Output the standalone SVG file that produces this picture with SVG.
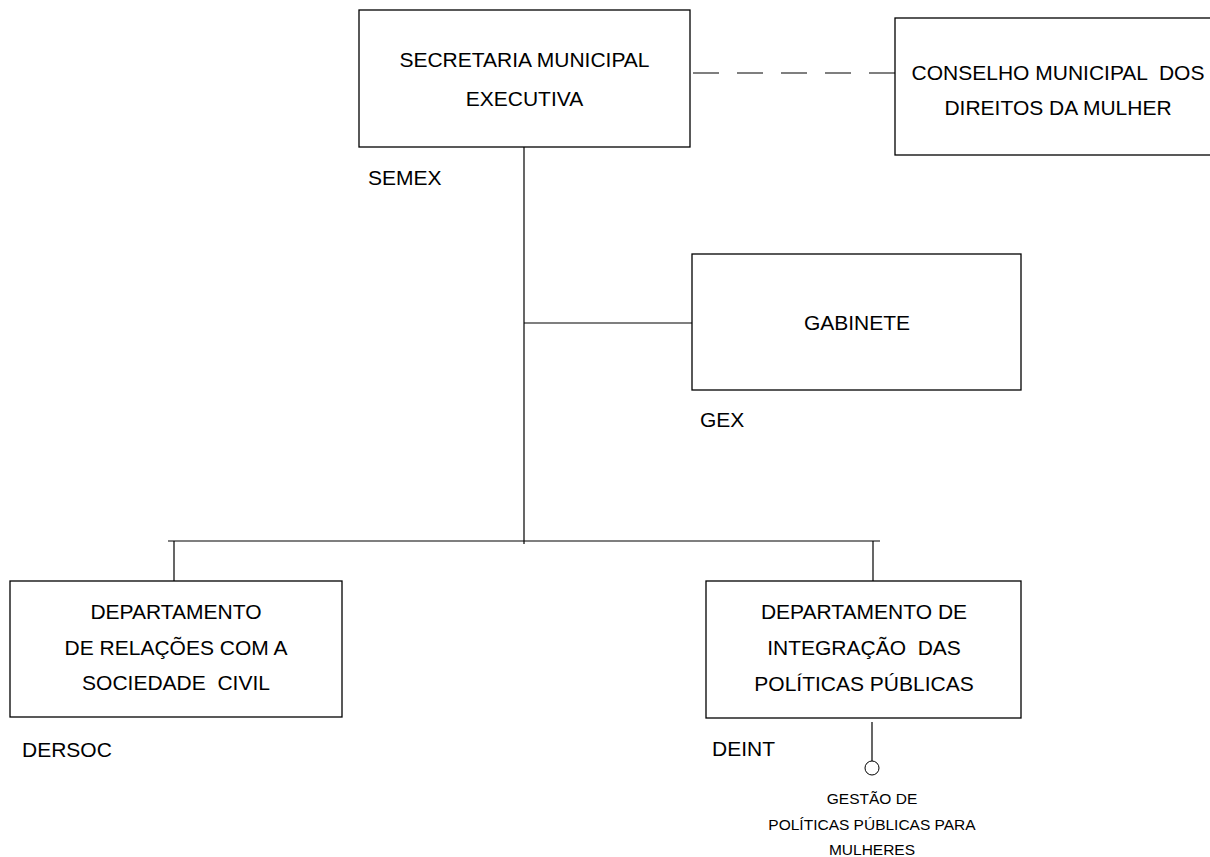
<svg xmlns="http://www.w3.org/2000/svg" width="1210" height="857" viewBox="0 0 1210 857">
<style>
.box{fill:#fff;stroke:#000;stroke-width:1.3}
.t{font-family:"Liberation Sans",Arial,sans-serif;font-size:21px;fill:#000}
.c{text-anchor:middle}
.s{font-family:"Liberation Sans",Arial,sans-serif;font-size:15.5px;fill:#000;text-anchor:middle}
.ln{stroke:#000;stroke-width:1.2;fill:none}
</style>
<rect width="1210" height="857" fill="#fff"/>
<g id="connectors">
<line class="ln" x1="693" y1="73" x2="895" y2="73" stroke-dasharray="26 18"/>
<line class="ln" x1="524" y1="147" x2="524" y2="544"/>
<line class="ln" x1="524" y1="323" x2="692" y2="323"/>
<line class="ln" x1="168" y1="541" x2="880" y2="541" stroke-width="1.8"/>
<line class="ln" x1="174" y1="541" x2="174" y2="581"/>
<line class="ln" x1="873" y1="541" x2="873" y2="581"/>
<line class="ln" x1="872" y1="722" x2="872" y2="761" stroke-width="2"/>
<circle cx="872" cy="768" r="7" fill="#fff" stroke="#000" stroke-width="1"/>
</g>
<g id="semex">
<rect class="box" x="359" y="10" width="331" height="137"/>
<text class="t c" x="524.5" y="67">SECRETARIA MUNICIPAL</text>
<text class="t c" x="524.5" y="106">EXECUTIVA</text>
<text class="t" x="368" y="185">SEMEX</text>
</g>
<g id="conselho">
<rect class="box" x="895" y="18" width="330" height="137"/>
<text class="t c" x="1058" y="80" xml:space="preserve">CONSELHO MUNICIPAL  DOS</text>
<text class="t c" x="1058" y="115">DIREITOS DA MULHER</text>
</g>
<g id="gabinete">
<rect class="box" x="692" y="254" width="329" height="136"/>
<text class="t c" x="857" y="330">GABINETE</text>
<text class="t" x="700" y="427">GEX</text>
</g>
<g id="dersoc">
<rect class="box" x="10" y="581" width="332" height="136"/>
<text class="t c" x="176" y="619">DEPARTAMENTO</text>
<text class="t c" x="176" y="655">DE RELAÇÕES COM A</text>
<text class="t c" x="176" y="690" xml:space="preserve">SOCIEDADE  CIVIL</text>
<text class="t" x="22" y="757">DERSOC</text>
</g>
<g id="deint">
<rect class="box" x="706" y="581" width="315" height="137"/>
<text class="t c" x="864" y="619">DEPARTAMENTO DE</text>
<text class="t c" x="864" y="655" xml:space="preserve">INTEGRAÇÃO  DAS</text>
<text class="t c" x="864" y="691">POLÍTICAS PÚBLICAS</text>
<text class="t" x="712" y="756">DEINT</text>
</g>
<g id="gestao">
<text class="s" x="872" y="804">GESTÃO DE</text>
<text class="s" x="872" y="830">POLÍTICAS PÚBLICAS PARA</text>
<text class="s" x="872" y="855">MULHERES</text>
</g>
</svg>
